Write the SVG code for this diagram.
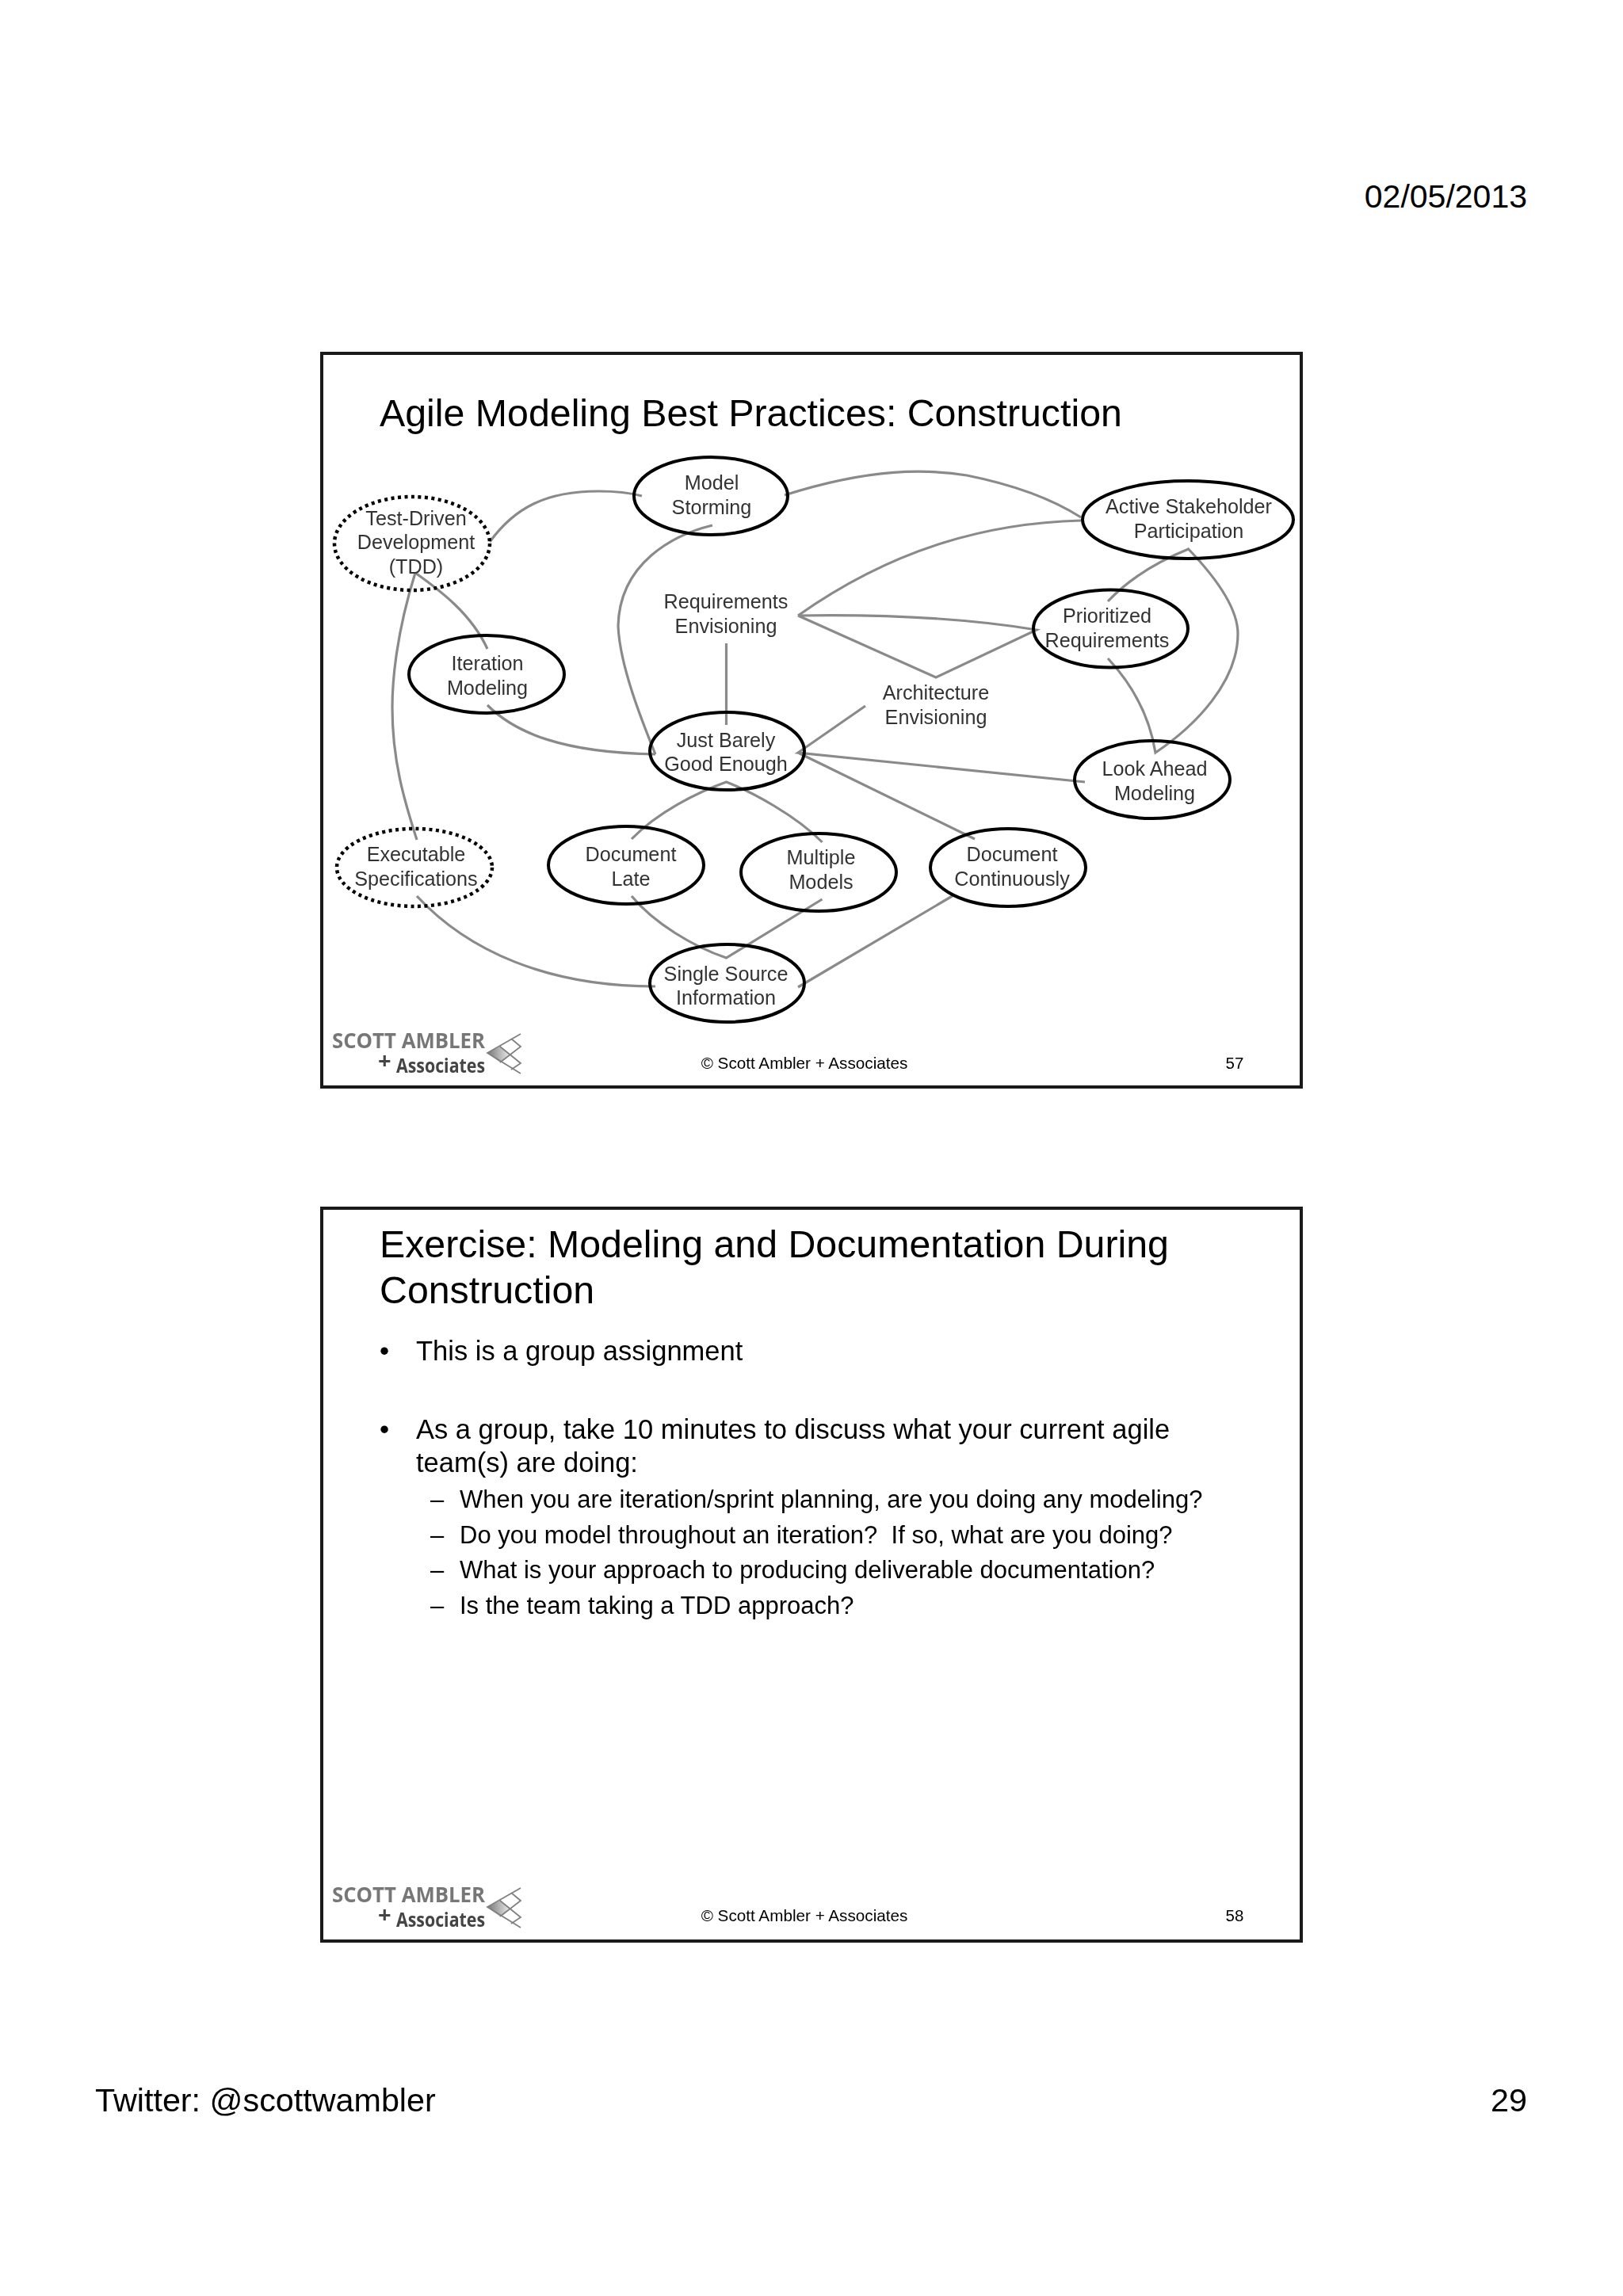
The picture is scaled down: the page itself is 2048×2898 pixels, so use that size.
<svg xmlns="http://www.w3.org/2000/svg" width="2048" height="2898" viewBox="0 0 2048 2898">
<defs>
<style>
.t{font-family:"Liberation Sans",Arial,sans-serif;fill:#000;white-space:pre}
.n{font-family:"Liberation Sans",Arial,sans-serif;font-size:25.200px;fill:#333;text-anchor:middle}
.e{fill:none;stroke:#000;stroke-width:4}
.d{fill:none;stroke:#000;stroke-width:4.500;stroke-dasharray:4 4.500}
.c{fill:none;stroke:#8a8a8a;stroke-width:3.200}
.f{fill:#fff;stroke:#1a1a1a;stroke-width:4}
.l{font-family:"Open Sans","Liberation Sans",sans-serif;font-weight:700}
.lg{fill:none;stroke:#808080;stroke-width:1.800}
</style>
<linearGradient id="g" x1="0" x2="1"><stop offset="0" stop-color="#777"/><stop offset="1" stop-color="#e8e8e8"/></linearGradient>
<filter id="b" x="-2%" y="-2%" width="104%" height="104%"><feGaussianBlur stdDeviation="0.5"/></filter>
<g id="logo">
<path d="M615,7 L631,-1 L643,9 L631,19Z" fill="url(#g)"/>
<text class="l" x="419" y="1" font-size="27" fill="#777" textLength="193" lengthAdjust="spacingAndGlyphs">SCOTT AMBLER</text>
<text class="l" x="477" y="27" font-size="29" fill="#444">+</text>
<text class="l" x="500" y="32" font-size="25" fill="#444" textLength="112" lengthAdjust="spacingAndGlyphs">Associates</text>
<path class="lg" d="M657,-17 L615,7 L657,33 M645,-11 L657,-1 L631,19 M631,-1 L657,20 L645,28"/>
</g>
</defs>
<rect width="2048" height="2898" fill="#fff"/>
<text class="t" x="1927" y="262" font-size="41" text-anchor="end">02/05/2013</text>
<rect class="f" x="406" y="446" width="1236" height="926"/>
<rect class="f" x="406" y="1525" width="1236" height="925"/>
<text class="t" x="479" y="538" font-size="48.300">Agile Modeling Best Practices: Construction</text>
<g filter="url(#b)">
<g id="connectors">
<path class="c" d="M618,684C650,640 690,620 755,620C775,620 795,622 810,626"/>
<path class="c" d="M899,663C850,675 782,710 780,790C782,840 810,910 827,952"/>
<path class="c" d="M524,723C555,745 595,775 615,819"/>
<path class="c" d="M524,723C500,800 495,860 495,893C495,960 510,1010 526,1060"/>
<path class="c" d="M615,890C650,925 710,950 827,952"/>
<path class="c" d="M916.500,812V915"/>
<path class="c" d="M1364,657C1250,660 1130,690 1007,777"/>
<path class="c" d="M1007,777C1130,775 1230,782 1308,795L1181,855L1007,777"/>
<path class="c" d="M990,625C1100,590 1170,592 1220,600C1270,610 1320,625 1364,653"/>
<path class="c" d="M1398,759C1430,725 1470,705 1499.600,693C1540,735 1562,770 1562,800C1562,860 1510,915 1458,950C1450,900 1425,860 1398,831"/>
<path class="c" d="M1092,891L1007,950L1369,987M1007,950L1230,1059"/>
<path class="c" d="M797,1059C830,1025 880,1000 916.500,987C950,1000 1005,1030 1037.500,1063"/>
<path class="c" d="M797,1131C825,1165 875,1195 916.500,1209L1037.500,1135"/>
<path class="c" d="M1007,1246L1201.600,1131"/>
<path class="c" d="M526,1131C590,1200 690,1245 827,1245"/>
</g>
<g id="tdd"><ellipse class="d" cx="520" cy="686" rx="98" ry="59"/><text class="n" x="525" y="663">Test-Driven</text><text class="n" x="525" y="693">Development</text><text class="n" x="525" y="724">(TDD)</text></g>
<g id="model-storming"><ellipse class="e" cx="897" cy="626" rx="97" ry="49"/><text class="n" x="898" y="618">Model</text><text class="n" x="898" y="649">Storming</text></g>
<g id="active-stakeholder"><ellipse class="e" cx="1499" cy="656" rx="133" ry="49"/><text class="n" x="1500" y="648">Active Stakeholder</text><text class="n" x="1500" y="679">Participation</text></g>
<g id="requirements-envisioning"><text class="n" x="916" y="768">Requirements</text><text class="n" x="916" y="799">Envisioning</text></g>
<g id="prioritized"><ellipse class="e" cx="1401.500" cy="793.500" rx="97.500" ry="49"/><text class="n" x="1397" y="786">Prioritized</text><text class="n" x="1397" y="817">Requirements</text></g>
<g id="iteration"><ellipse class="e" cx="614" cy="851" rx="98" ry="49"/><text class="n" x="615" y="846">Iteration</text><text class="n" x="615" y="877">Modeling</text></g>
<g id="architecture-envisioning"><text class="n" x="1181" y="883">Architecture</text><text class="n" x="1181" y="914">Envisioning</text></g>
<g id="just-barely"><ellipse class="e" cx="917.500" cy="948" rx="97.500" ry="49"/><text class="n" x="916" y="943">Just Barely</text><text class="n" x="916" y="973">Good Enough</text></g>
<g id="look-ahead"><ellipse class="e" cx="1454" cy="984" rx="98" ry="49"/><text class="n" x="1457" y="979">Look Ahead</text><text class="n" x="1457" y="1010">Modeling</text></g>
<g id="executable"><ellipse class="d" cx="523" cy="1095" rx="98" ry="49"/><text class="n" x="525" y="1087">Executable</text><text class="n" x="525" y="1118">Specifications</text></g>
<g id="document-late"><ellipse class="e" cx="790" cy="1092" rx="98" ry="49"/><text class="n" x="796" y="1087">Document</text><text class="n" x="796" y="1118">Late</text></g>
<g id="multiple-models"><ellipse class="e" cx="1033" cy="1101" rx="98" ry="49"/><text class="n" x="1036" y="1091">Multiple</text><text class="n" x="1036" y="1122">Models</text></g>
<g id="document-continuously"><ellipse class="e" cx="1272" cy="1095" rx="98" ry="49"/><text class="n" x="1277" y="1087">Document</text><text class="n" x="1277" y="1118">Continuously</text></g>
<g id="single-source"><ellipse class="e" cx="917.500" cy="1241" rx="97.500" ry="49"/><text class="n" x="916" y="1238">Single Source</text><text class="n" x="916" y="1268">Information</text></g>
<use href="#logo" y="1322"/>
<use href="#logo" y="2400"/>
</g>
<text class="t" x="1015" y="1349" font-size="20.700" text-anchor="middle">© Scott Ambler + Associates</text>
<text class="t" x="1558" y="1349" font-size="20.500" text-anchor="middle">57</text>
<text class="t" x="479" y="1587" font-size="48.300">Exercise: Modeling and Documentation During</text>
<text class="t" x="479" y="1645" font-size="48.300">Construction</text>
<text class="t" x="479" y="1717" font-size="34.500">•</text><text class="t" x="525" y="1717" font-size="34.500">This is a group assignment</text>
<text class="t" x="479" y="1816" font-size="34.500">•</text><text class="t" x="525" y="1816" font-size="34.500">As a group, take 10 minutes to discuss what your current agile</text>
<text class="t" x="525" y="1858" font-size="34.500">team(s) are doing:</text>
<g font-size="31">
<text class="t" x="543" y="1903">–</text><text class="t" x="580" y="1903">When you are iteration/sprint planning, are you doing any modeling?</text>
<text class="t" x="543" y="1948">–</text><text class="t" x="580" y="1948">Do you model throughout an iteration?  If so, what are you doing?</text>
<text class="t" x="543" y="1992">–</text><text class="t" x="580" y="1992">What is your approach to producing deliverable documentation?</text>
<text class="t" x="543" y="2037">–</text><text class="t" x="580" y="2037">Is the team taking a TDD approach?</text>
</g>
<text class="t" x="1015" y="2425" font-size="20.700" text-anchor="middle">© Scott Ambler + Associates</text>
<text class="t" x="1558" y="2425" font-size="20.500" text-anchor="middle">58</text>
<text class="t" x="120" y="2665" font-size="41.300">Twitter: @scottwambler</text>
<text class="t" x="1927" y="2665" font-size="41.300" text-anchor="end">29</text>
</svg>
